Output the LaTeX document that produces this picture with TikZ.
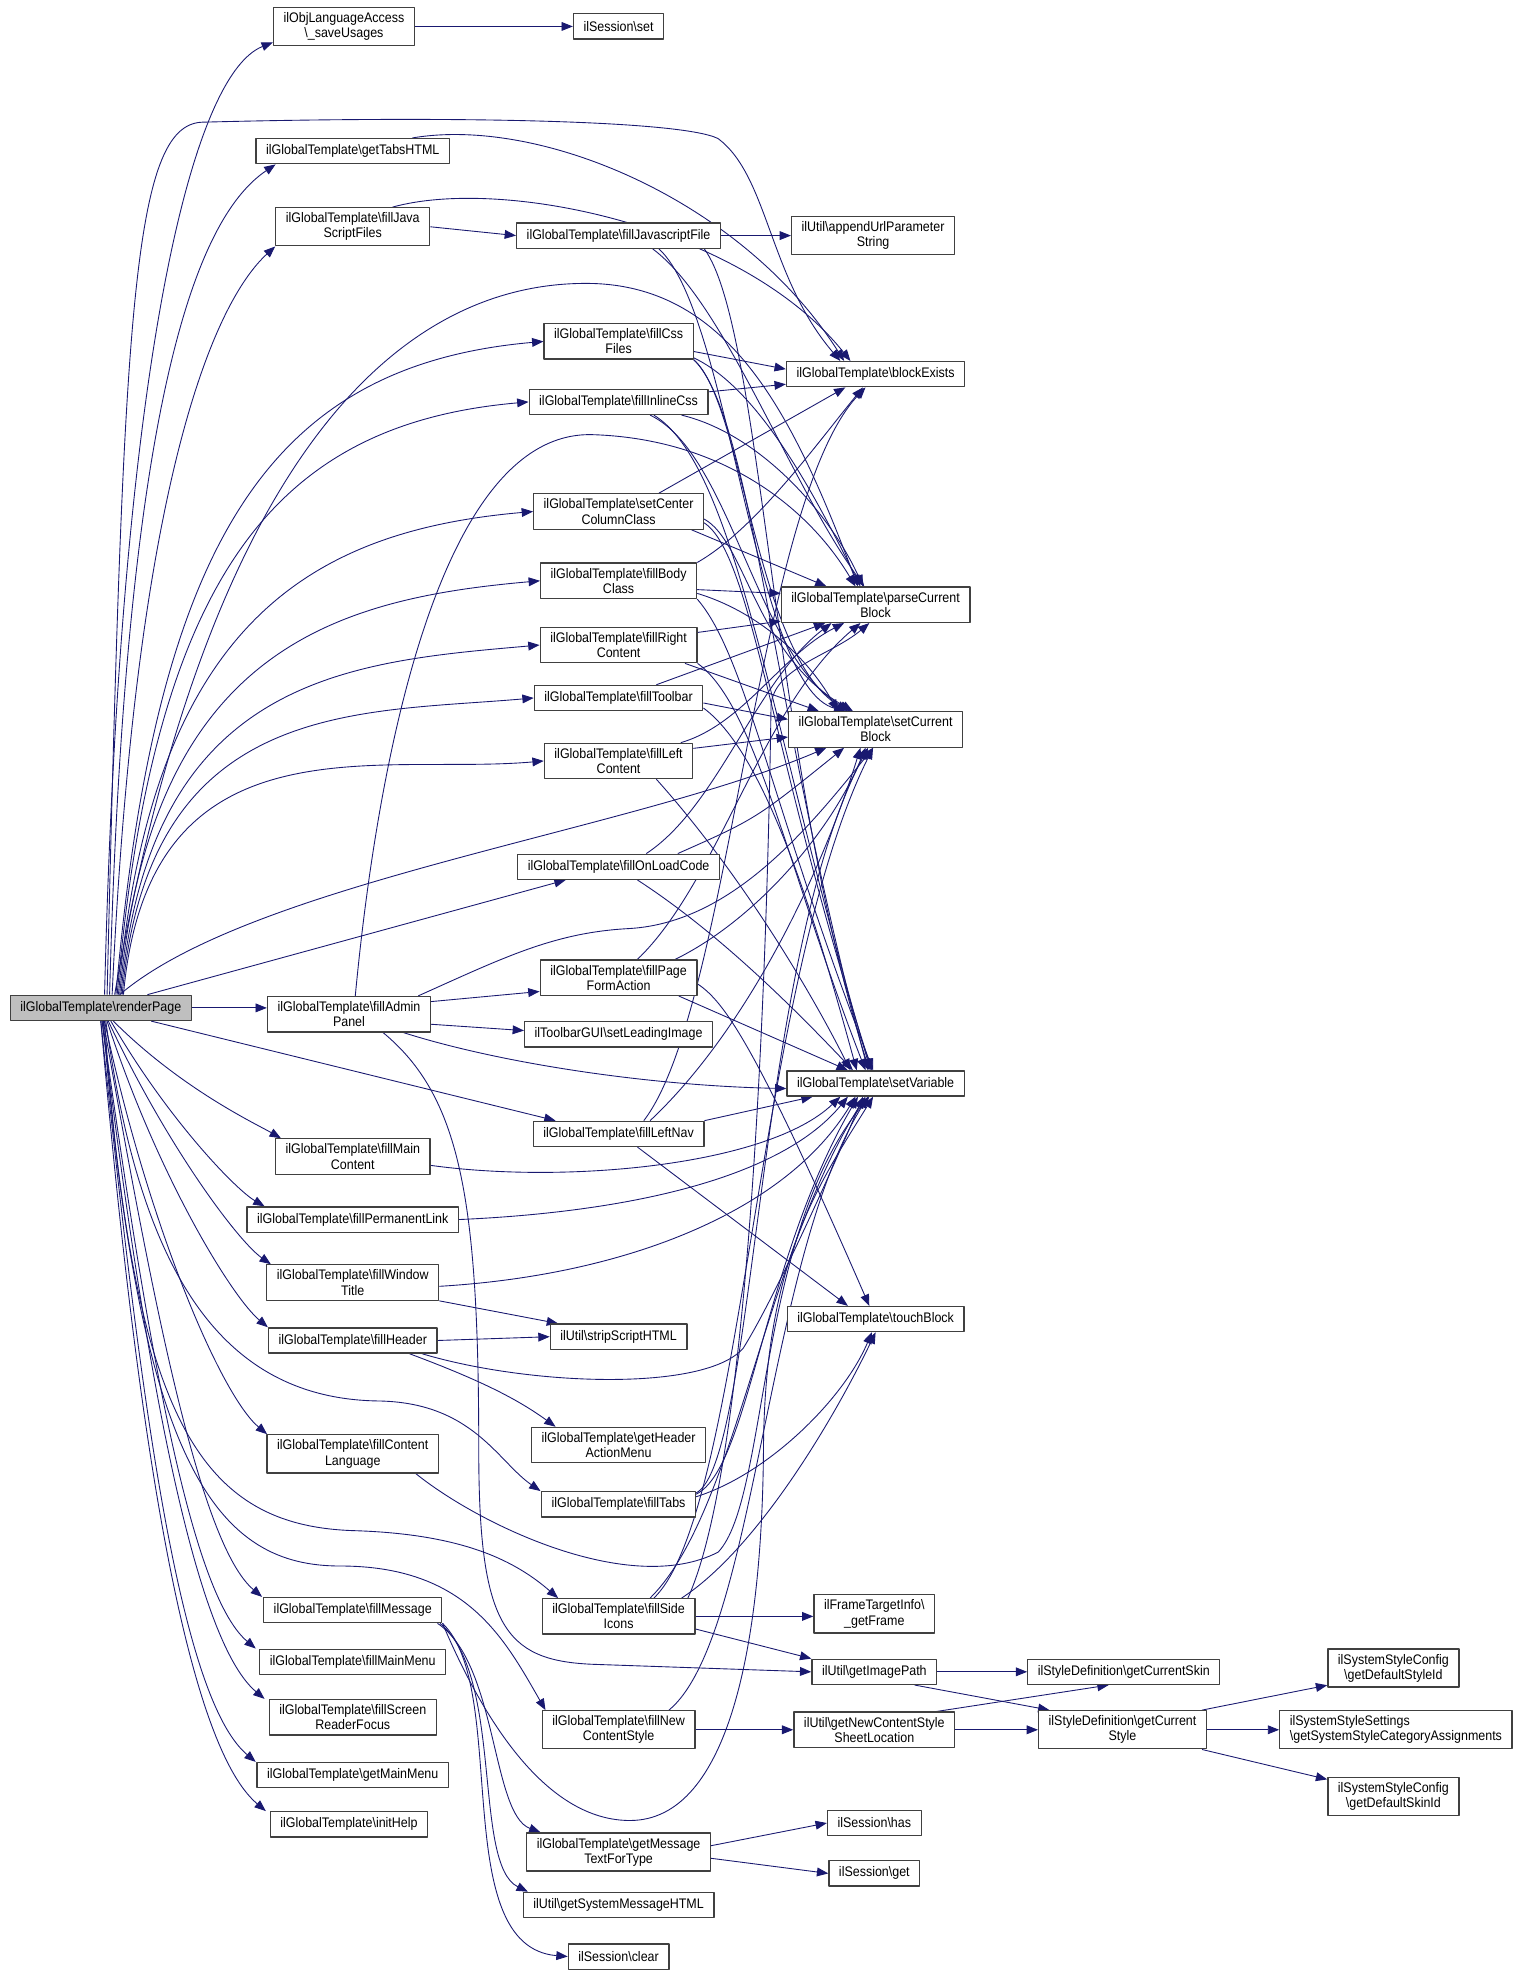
\documentclass[tikz,border=0pt]{standalone}
\usepackage{fontspec}
\setmainfont{Liberation Sans}[FakeStretch=0.9]
\usetikzlibrary{arrows.meta,backgrounds}
\definecolor{edgeblue}{HTML}{191970}
\definecolor{rootgray}{HTML}{BFBFBF}
\newcommand{\ns}{\textbackslash}
\tikzset{
  fn/.style={draw=black!75, line width=1pt, fill=white, inner xsep=8pt,
    inner ysep=4pt, minimum height=20pt, align=center},
  rootfn/.style={fn, fill=rootgray},
  call/.style={draw=edgeblue, line width=0.7pt, -{Triangle[length=9pt,width=7pt]}},
  fanup/.style={out=85, in=185, out looseness=1.5, in looseness=0.9},
  fandown/.style={out looseness=1.2, in looseness=0.35},
}
\begin{document}
\begin{tikzpicture}[x=1pt, y=-1pt, font=\fontsize{11}{12}\selectfont,
	line join=round, line cap=round]
	\useasboundingbox (0,0) rectangle (1215,1574);
	% caller
	\node[rootfn] (render) at (80,800) {ilGlobalTemplate\ns renderPage};
	% first column
	\node[fn] (saveUsages) at (273,21) {ilObjLanguageAccess\\\ns\_saveUsages};
	\node[fn] (tabsHTML) at (280,120) {ilGlobalTemplate\ns getTabsHTML};
	\node[fn] (fillJS) at (280,180) {ilGlobalTemplate\ns fillJava\\ScriptFiles};
	\node[fn] (adminPanel) at (277,805) {ilGlobalTemplate\ns fillAdmin\\Panel};
	\node[fn] (mainCont) at (280,918) {ilGlobalTemplate\ns fillMain\\Content};
	\node[fn] (permLink) at (280,968) {ilGlobalTemplate\ns fillPermanentLink};
	\node[fn] (winTitle) at (280,1018) {ilGlobalTemplate\ns fillWindow\\Title};
	\node[fn] (header) at (280,1064) {ilGlobalTemplate\ns fillHeader};
	\node[fn] (contLang) at (280,1154) {ilGlobalTemplate\ns fillContent\\Language};
	\node[fn] (message) at (280,1278) {ilGlobalTemplate\ns fillMessage};
	\node[fn] (mainMenu) at (280,1319) {ilGlobalTemplate\ns fillMainMenu};
	\node[fn] (readerFocus) at (280,1363) {ilGlobalTemplate\ns fillScreen\\ReaderFocus};
	\node[fn] (getMainMenu) at (280,1409) {ilGlobalTemplate\ns getMainMenu};
	\node[fn] (initHelp) at (277,1448) {ilGlobalTemplate\ns initHelp};
	% second column
	\node[fn] (sessSet) at (491,21) {ilSession\ns set};
	\node[fn] (fillJSFile) at (491,187) {ilGlobalTemplate\ns fillJavascriptFile};
	\node[fn] (fillCss) at (491,271) {ilGlobalTemplate\ns fillCss\\Files};
	\node[fn] (inlineCss) at (491,319) {ilGlobalTemplate\ns fillInlineCss};
	\node[fn] (centerCol) at (491,406) {ilGlobalTemplate\ns setCenter\\ColumnClass};
	\node[fn] (bodyClass) at (491,461) {ilGlobalTemplate\ns fillBody\\Class};
	\node[fn] (rightCont) at (491,512) {ilGlobalTemplate\ns fillRight\\Content};
	\node[fn] (toolbar) at (491,554) {ilGlobalTemplate\ns fillToolbar};
	\node[fn] (leftCont) at (491,604) {ilGlobalTemplate\ns fillLeft\\Content};
	\node[fn] (onLoad) at (491,688) {ilGlobalTemplate\ns fillOnLoadCode};
	\node[fn] (pageForm) at (491,776) {ilGlobalTemplate\ns fillPage\\FormAction};
	\node[fn] (leadImg) at (491,821) {ilToolbarGUI\ns setLeadingImage};
	\node[fn] (leftNav) at (491,900) {ilGlobalTemplate\ns fillLeftNav};
	\node[fn] (stripHTML) at (491,1061) {ilUtil\ns stripScriptHTML};
	\node[fn] (headerMenu) at (491,1147) {ilGlobalTemplate\ns getHeader\\ActionMenu};
	\node[fn] (tabs) at (491,1194) {ilGlobalTemplate\ns fillTabs};
	\node[fn] (sideIcons) at (491,1283) {ilGlobalTemplate\ns fillSide\\Icons};
	\node[fn] (newStyle) at (491,1373) {ilGlobalTemplate\ns fillNew\\ContentStyle};
	\node[fn] (msgText) at (491,1470) {ilGlobalTemplate\ns getMessage\\TextForType};
	\node[fn] (sysMsg) at (491,1512) {ilUtil\ns getSystemMessageHTML};
	\node[fn] (sessClear) at (491,1553) {ilSession\ns clear};
	% third column
	\node[fn] (appendUrl) at (693,187) {ilUtil\ns appendUrlParameter\\String};
	\node[fn] (blockEx) at (695,297) {ilGlobalTemplate\ns blockExists};
	\node[fn] (parseBlock) at (695,480) {ilGlobalTemplate\ns parseCurrent\\Block};
	\node[fn] (setBlock) at (695,579) {ilGlobalTemplate\ns setCurrent\\Block};
	\node[fn] (setVar) at (695,860) {ilGlobalTemplate\ns setVariable};
	\node[fn] (touchBlk) at (695,1047) {ilGlobalTemplate\ns touchBlock};
	\node[fn] (getFrame) at (694,1281) {ilFrameTargetInfo\ns\\\_getFrame};
	\node[fn] (imgPath) at (694,1327) {ilUtil\ns getImagePath};
	\node[fn] (styleSheet) at (694,1373) {ilUtil\ns getNewContentStyle\\SheetLocation};
	\node[fn] (sessHas) at (694,1447) {ilSession\ns has};
	\node[fn] (sessGet) at (694,1487) {ilSession\ns get};
	% style lookups
	\node[fn] (curSkin) at (892,1327) {ilStyleDefinition\ns getCurrentSkin};
	\node[fn] (curStyle) at (891,1373) {ilStyleDefinition\ns getCurrent\\Style};
	\node[fn] (defStyle) at (1106,1324) {ilSystemStyleConfig\\\ns getDefaultStyleId};
	\node[fn, align=left] (catAssign) at (1108,1373) {ilSystemStyleSettings\\\ns getSystemStyleCategoryAssignments};
	\node[fn] (defSkin) at (1106,1426) {ilSystemStyleConfig\\\ns getDefaultSkinId};

	\begin{scope}[on background layer]
	% renderPage, upwards
	\draw[call] ([xshift=3pt]render.north) .. controls (95,300) and (150,60) .. ([yshift=3pt]saveUsages.south west);
	\draw[call] ([xshift=5pt]render.north) .. controls (98,250) and (105,100) .. (160,97) .. controls (350,92) and (540,95) .. (570,110) .. controls (610,140) and (610,220) .. ([xshift=-28pt]blockEx.north);
	\draw[call] ([xshift=7pt]render.north) .. controls (100,300) and (160,170) .. ([xshift=16pt]tabsHTML.south west);
	\draw[call] ([xshift=9pt]render.north) .. controls (108,380) and (170,240) .. (fillJS.south west);
	\draw[call] ([xshift=11pt]render.north) .. controls (170,340) and (330,222) .. (470,225) .. controls (580,228) and (630,330) .. ([xshift=-14pt]parseBlock.north);
	\draw[call] ([xshift=12pt]render.north) to[fanup] (fillCss.west);
	\draw[call] ([xshift=13pt]render.north) to[fanup] (inlineCss.west);
	\draw[call] ([xshift=14pt]render.north) to[fanup] (centerCol.west);
	\draw[call] ([xshift=15pt]render.north) to[fanup] (bodyClass.west);
	\draw[call] ([xshift=16pt]render.north) to[fanup] (rightCont.west);
	\draw[call] ([xshift=17pt]render.north) to[fanup] (toolbar.west);
	\draw[call] ([xshift=18pt]render.north) to[fanup] (leftCont.west);
	\draw[call] ([xshift=15pt]render.north) .. controls (200,700) and (500,660) .. ([xshift=-39pt]setBlock.south);
	\draw[call] ([xshift=37pt]render.north) -- ([xshift=-42pt]onLoad.south);
	\draw[call] (render.east) -- (render.east -| adminPanel.west);
	\draw[call] ([xshift=40pt]render.south) -- ([xshift=-50pt]leftNav.north);
	% renderPage, downwards
	\draw[call] ([xshift=10pt]render.south) to[fandown, out=-45, in=150] ([xshift=-57pt]mainCont.north);
	\draw[call] ([xshift=8pt]render.south) to[fandown, out=-60, in=150] ([xshift=-70pt]permLink.north);
	\draw[call] ([xshift=6pt]render.south) to[fandown, out=-65, in=145] ([xshift=-65pt]winTitle.north);
	\draw[call] ([xshift=5pt]render.south) to[fandown, out=-72, in=140] (header.north west);
	\draw[call] ([xshift=4pt]render.south) .. controls (110,1000) and (170,1110) .. (300,1112) .. controls (375,1113) and (395,1160) .. ([xshift=-62pt]tabs.north);
	\draw[call] ([xshift=3pt]render.south) to[fandown, out=-78, in=140] ([xshift=-68pt]contLang.north);
	\draw[call] ([xshift=3pt]render.south) .. controls (105,1130) and (160,1212) .. (283,1215) .. controls (370,1218) and (410,1240) .. ([xshift=-48pt]sideIcons.north);
	\draw[call] ([xshift=2pt]render.south) to[fandown, out=-80, in=140] ([xshift=-72pt]message.north);
	\draw[call] ([xshift=2pt]render.south) .. controls (110,1170) and (175,1243) .. (270,1243) .. controls (370,1243) and (400,1300) .. ([xshift=-58pt]newStyle.north);
	\draw[call] ([xshift=1pt]render.south) to[fandown, out=-82, in=140] ([xshift=-77pt]mainMenu.north);
	\draw[call] ([xshift=1pt]render.south) to[fandown, out=-83, in=140] ([xshift=-70pt]readerFocus.north);
	\draw[call] (render.south) to[fandown, out=-84, in=140] ([xshift=-77pt]getMainMenu.north);
	\draw[call] (render.south) to[fandown, out=-85, in=140] ([xshift=-66pt]initHelp.north);
	% first column
	\draw[call] (saveUsages.east) -- (saveUsages.east -| sessSet.west);
	\draw[call] ([xshift=-30pt]tabsHTML.north east) .. controls (430,92) and (590,160) .. ([xshift=-25pt]blockEx.north);
	\draw[call] (fillJS.east) -- (fillJSFile.west);
	\draw[call] ([xshift=-30pt]fillJS.north east) .. controls (400,140) and (590,180) .. ([xshift=-20pt]blockEx.north);
	\draw[call] ([yshift=10pt]adminPanel.east) -- ([yshift=-11pt]pageForm.west);
	\draw[call] ([yshift=-8pt]adminPanel.east) -- ([yshift=3pt]leadImg.west);
	\draw[call] ([xshift=43pt]adminPanel.south) .. controls (400,845) and (520,862) .. ([yshift=-4pt]setVar.west);
	\draw[call] ([xshift=27pt]adminPanel.south) .. controls (365,870) and (380,950) .. (380,1150) .. controls (380,1290) and (400,1318) .. (470,1321) -- (imgPath.west);
	\draw[call] ([xshift=5pt]adminPanel.north) .. controls (300,600) and (350,342) .. (470,345) .. controls (570,348) and (640,400) .. ([xshift=-16pt]parseBlock.north);
	\draw[call] ([xshift=55pt]adminPanel.north) .. controls (400,760) and (440,740) .. (500,737) .. controls (580,732) and (640,660) .. ([xshift=-2pt]setBlock.south);
	\draw[call] ([yshift=-7pt]mainCont.east) .. controls (450,940) and (610,925) .. ([xshift=-28pt]setVar.south);
	\draw[call] (permLink.east) .. controls (500,962) and (620,935) .. ([xshift=-22pt]setVar.south);
	\draw[call] ([yshift=-3pt]winTitle.east) .. controls (500,1012) and (625,960) .. ([xshift=-16pt]setVar.south);
	\draw[call] (winTitle.south east) -- ([xshift=-48pt]stripHTML.north);
	\draw[call] (header.east) -- (stripHTML.west);
	\draw[call] ([xshift=45pt]header.south) .. controls (380,1095) and (410,1110) .. ([xshift=-50pt]headerMenu.north);
	\draw[call] ([xshift=55pt]header.south) .. controls (420,1100) and (560,1105) .. (590,1070) .. controls (615,1030) and (660,930) .. ([xshift=-10pt]setVar.south);
	\draw[call] ([xshift=50pt]contLang.south) .. controls (380,1210) and (500,1268) .. (570,1232) .. controls (610,1190) and (600,980) .. ([xshift=-5pt]setVar.south);
	\draw[call] ([xshift=-4pt]message.south east) .. controls (395,1320) and (390,1440) .. ([xshift=-62pt]msgText.north);
	\draw[call] ([xshift=-2pt]message.south east) .. controls (400,1330) and (375,1480) .. ([xshift=-72pt]sysMsg.north);
	\draw[call] (message.south east) .. controls (405,1340) and (355,1545) .. (sessClear.west);
	\draw[call] (message.south east) .. controls (390,1380) and (440,1445) .. (500,1445) .. controls (580,1445) and (605,1300) .. (606,1150) .. controls (607,1000) and (650,940) .. ([xshift=-2pt]setVar.south);
	% second column
	\draw[call] (fillJSFile.east) -- (appendUrl.west);
	\draw[call] ([xshift=27pt]fillJSFile.south) .. controls (575,240) and (625,380) .. ([xshift=-9pt]parseBlock.north);
	\draw[call] ([xshift=32pt]fillJSFile.south) .. controls (580,250) and (598,545) .. ([xshift=-24pt]setBlock.north);
	\draw[call] ([xshift=68pt]fillJSFile.south) .. controls (605,260) and (612,600) .. ([xshift=-5pt]setVar.north);
	\draw[call] ([yshift=-8pt]fillCss.east) -- ([yshift=4pt]blockEx.west);
	\draw[call] ([yshift=-13pt]fillCss.east) .. controls (605,310) and (650,400) .. ([xshift=-12pt]parseBlock.north);
	\draw[call] (fillCss.south east) .. controls (590,320) and (600,520) .. ([xshift=-22pt]setBlock.north);
	\draw[call] (fillCss.south east) .. controls (597,330) and (612,560) .. ([xshift=-6pt]setVar.north);
	\draw[call] ([yshift=8pt]inlineCss.east) -- ([yshift=-8pt]blockEx.west);
	\draw[call] ([xshift=50pt]inlineCss.south) .. controls (605,345) and (660,410) .. ([xshift=-10pt]parseBlock.north);
	\draw[call] ([xshift=25pt]inlineCss.south) .. controls (580,360) and (600,520) .. ([xshift=-20pt]setBlock.north);
	\draw[call] ([xshift=28pt]inlineCss.south) .. controls (585,370) and (612,580) .. ([xshift=-4pt]setVar.north);
	\draw[call] ([xshift=32pt]centerCol.north) -- ([xshift=-24pt]blockEx.south);
	\draw[call] ([xshift=-10pt]centerCol.south east) -- ([xshift=-39pt]parseBlock.north);
	\draw[call] ([yshift=-6pt]centerCol.east) .. controls (592,430) and (600,520) .. ([xshift=-18pt]setBlock.north);
	\draw[call] ([yshift=-9pt]centerCol.east) .. controls (597,440) and (612,600) .. ([xshift=-3pt]setVar.north);
	\draw[call] (bodyClass.north east) .. controls (600,420) and (650,350) .. ([xshift=-10pt]blockEx.south);
	\draw[call] ([yshift=-7pt]bodyClass.east) -- ([yshift=9pt]parseBlock.west);
	\draw[call] ([yshift=-10pt]bodyClass.east) .. controls (600,485) and (640,520) .. ([xshift=-30pt]setBlock.north);
	\draw[call] (bodyClass.south east) .. controls (592,520) and (612,640) .. ([xshift=-2pt]setVar.north);
	\draw[call] ([yshift=10pt]rightCont.east) -- ([yshift=-13pt]parseBlock.west);
	\draw[call] ([xshift=-10pt]rightCont.south east) -- ([xshift=-45pt]setBlock.north);
	\draw[call] (rightCont.south east) .. controls (600,560) and (625,690) .. ([xshift=-8pt]setVar.north);
	\draw[call] ([xshift=30pt]toolbar.north) -- ([xshift=-40pt]parseBlock.south);
	\draw[call] ([yshift=-4pt]toolbar.east) -- ([yshift=8pt]setBlock.west);
	\draw[call] ([yshift=-8pt]toolbar.east) .. controls (610,600) and (650,740) .. ([xshift=-15pt]setVar.north);
	\draw[call] ([xshift=-10pt]leftCont.north east) .. controls (590,575) and (620,520) .. ([xshift=-25pt]parseBlock.south);
	\draw[call] ([yshift=10pt]leftCont.east) -- ([yshift=-6pt]setBlock.west);
	\draw[call] ([xshift=30pt]leftCont.south) .. controls (585,690) and (640,780) .. ([xshift=-20pt]setVar.north);
	\draw[call] ([xshift=22pt]onLoad.north) .. controls (570,640) and (600,540) .. ([xshift=-35pt]parseBlock.south);
	\draw[call] ([xshift=47pt]onLoad.north) .. controls (600,650) .. ([xshift=-25pt]setBlock.south);
	\draw[call] ([xshift=15pt]onLoad.south) .. controls (570,740) and (630,800) .. ([xshift=-18pt]setVar.north);
	\draw[call] ([xshift=15pt]pageForm.north) .. controls (570,700) and (605,560) .. ([xshift=-12pt]parseBlock.south);
	\draw[call] ([xshift=45pt]pageForm.north) .. controls (600,730) and (660,660) .. ([xshift=-8pt]setBlock.south);
	\draw[call] ([xshift=-15pt]pageForm.south east) -- ([xshift=-22pt]setVar.north);
	\draw[call] ([yshift=-5pt]pageForm.east) .. controls (575,795) and (600,830) .. ([xshift=-5pt]touchBlk.north);
	\draw[call] ([xshift=20pt]leftNav.north) .. controls (580,800) and (600,400) .. ([xshift=-8pt]blockEx.south);
	\draw[call] ([xshift=25pt]leftNav.north) .. controls (590,820) and (650,700) .. ([xshift=-12pt]setBlock.south);
	\draw[call] (leftNav.north east) -- ([xshift=-50pt]setVar.south);
	\draw[call] ([xshift=15pt]leftNav.south) -- ([xshift=-22pt]touchBlk.north);
	\draw[call] ([yshift=6pt]tabs.east) .. controls (610,1170) and (670,1110) .. ([xshift=-3pt]touchBlk.south);
	\draw[call] ([yshift=8pt]tabs.east) .. controls (595,1165) and (605,1000) .. ([xshift=-14pt]setVar.south);
	\draw[call] ([yshift=9pt]tabs.east) .. controls (600,1160) and (600,760) .. ([xshift=-6pt]setBlock.south);
	\draw[call] (sideIcons.east) -- (sideIcons.east -| getFrame.west);
	\draw[call] ([yshift=-10pt]sideIcons.east) -- ([xshift=-50pt]imgPath.north);
	\draw[call] ([xshift=50pt]sideIcons.north) .. controls (600,1230) and (660,1130) .. (touchBlk.south);
	\draw[call] ([xshift=25pt]sideIcons.north) .. controls (585,1200) and (605,1000) .. ([xshift=-8pt]setVar.south);
	\draw[call] ([xshift=28pt]sideIcons.north) .. controls (590,1200) and (600,780) .. ([xshift=-2pt]setBlock.south);
	\draw[call] ([xshift=55pt]sideIcons.north) .. controls (600,1150) and (610,700) .. (612,560) .. controls (614,530) and (660,520) .. ([xshift=-5pt]parseBlock.south);
	\draw[call] (newStyle.east) -- (styleSheet.west);
	\draw[call] ([xshift=40pt]newStyle.north) .. controls (600,1300) and (608,1000) .. ([xshift=-6pt]setVar.south);
	\draw[call] ([yshift=5pt]msgText.east) -- (sessHas.west);
	\draw[call] ([yshift=-5pt]msgText.east) -- (sessGet.west);
	% third column
	\draw[call] (imgPath.east) -- (curSkin.west);
	\draw[call] ([xshift=-18pt]imgPath.south east) -- ([xshift=-58pt]curStyle.north);
	\draw[call] ([xshift=-15pt]styleSheet.north east) -- ([xshift=-12pt]curSkin.south);
	\draw[call] (styleSheet.east) -- (curStyle.west);
	\draw[call] ([xshift=-4pt]curStyle.north east) -- ([yshift=2pt]defStyle.south west);
	\draw[call] (curStyle.east) -- (catAssign.west);
	\draw[call] ([xshift=-4pt]curStyle.south east) -- ([yshift=-2pt]defSkin.north west);
	\end{scope}
\end{tikzpicture}
\end{document}
